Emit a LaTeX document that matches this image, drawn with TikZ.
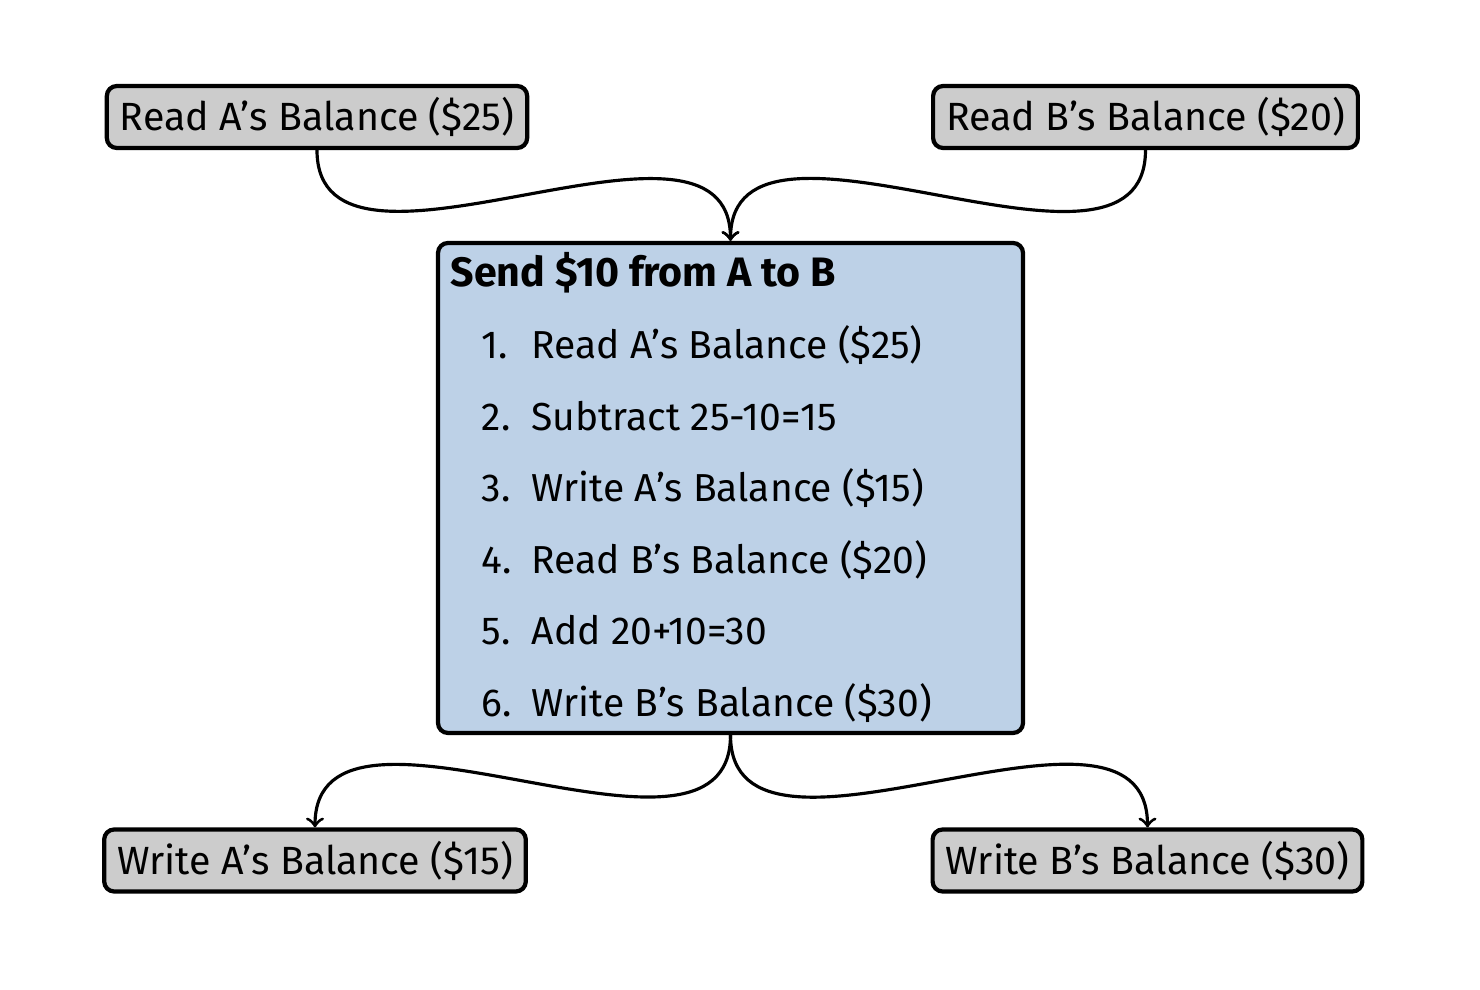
\documentclass[tikz,border=0pt]{standalone}
\usepackage{fontspec}
\setmainfont{Fira Sans}
\definecolor{boxgray}{RGB}{204,204,204}
\definecolor{sendblue}{RGB}{189,209,231}

\begin{document}
\begin{tikzpicture}[
  balance/.style={draw, line width=1.2pt, rounded corners=0.1cm, fill=boxgray,
    minimum height=0.62cm, inner xsep=0.13cm, inner ysep=0pt, font=\fontsize{11.2}{13}\selectfont},
  flow/.style={->, line width=0.9pt, out=-90, in=90},
  step line/.style={anchor=base west, inner sep=0pt, font=\fontsize{11.1}{13}\selectfont}
]
%\draw [help lines] (0,0) grid (15,10);
\useasboundingbox (0,0) rectangle (14.8,9.9);
\node [balance] (readA) at (3.17, 8.73) {Read A’s Balance (\$25)};
\node [balance] (readB) at (11.455, 8.73) {Read B’s Balance (\$20)};
\node [draw, line width=1.2pt, rounded corners=0.1cm, fill=sendblue,
  minimum width=5.85cm, minimum height=4.9cm] (send) at (7.305, 5.02) {};
\node [step line, font=\fontsize{11.7}{13}\selectfont\bfseries] (title) at (4.5, 7.03) {Send \$10 from A to B};
\node [step line] (n1) at (4.81, 6.31) {1.};
\node [step line] (s1) at (5.31, 6.31) {Read A’s Balance (\$25)};
\node [step line] (n2) at (4.81, 5.595) {2.};
\node [step line] (s2) at (5.31, 5.595) {Subtract 25-10=15};
\node [step line] (n3) at (4.81, 4.88) {3.};
\node [step line] (s3) at (5.31, 4.88) {Write A’s Balance (\$15)};
\node [step line] (n4) at (4.81, 4.165) {4.};
\node [step line] (s4) at (5.31, 4.165) {Read B’s Balance (\$20)};
\node [step line] (n5) at (4.81, 3.45) {5.};
\node [step line] (s5) at (5.31, 3.45) {Add 20+10=30};
\node [step line] (n6) at (4.81, 2.735) {6.};
\node [step line] (s6) at (5.31, 2.735) {Write B’s Balance (\$30)};
\node [balance] (writeA) at (3.15, 1.295) {Write A’s Balance (\$15)};
\node [balance] (writeB) at (11.475, 1.295) {Write B’s Balance (\$30)};
\draw [flow] (readA.south) to (send.north);
\draw [flow] (readB.south) to (send.north);
\draw [flow] (send.south) to (writeA.north);
\draw [flow] (send.south) to (writeB.north);
\end{tikzpicture}
\end{document}
